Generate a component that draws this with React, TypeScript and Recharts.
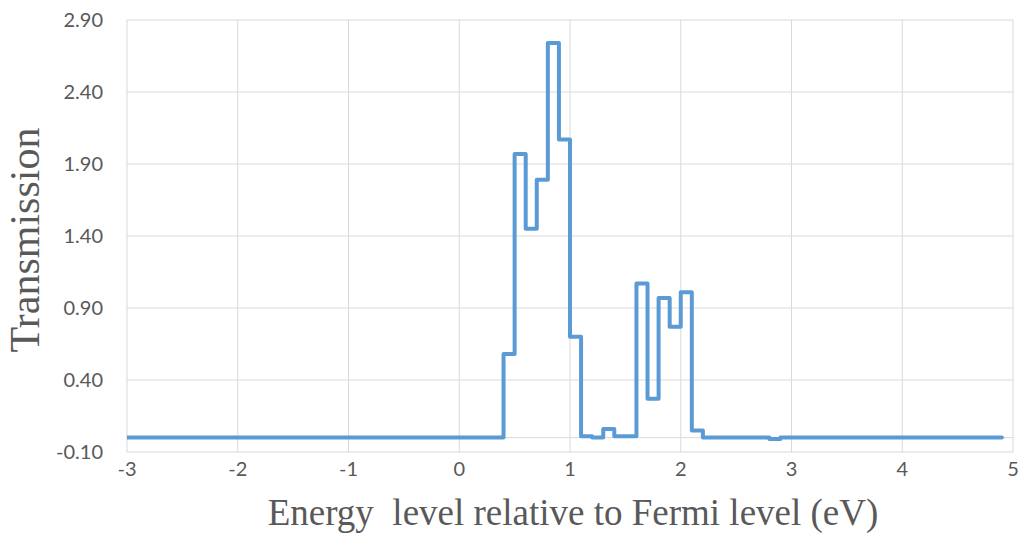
import React from 'react';
import { LineChart, Line, XAxis, YAxis, CartesianGrid, ReferenceLine } from 'recharts';

const energy = [-3, 0.4, 0.5, 0.6, 0.7, 0.8, 0.9, 1.0, 1.1, 1.2, 1.3, 1.4, 1.6, 1.7, 1.8, 1.9, 2.0, 2.1, 2.2, 2.8, 2.9, 4.9];
const transmission = [0.0, 0.58, 1.97, 1.45, 1.79, 2.74, 2.07, 0.70, 0.01, 0.0, 0.06, 0.01, 1.07, 0.27, 0.97, 0.77, 1.01, 0.05, 0.0, -0.01, 0.0, 0.0];
const xTicks = [-3, -2, -1, 0, 1, 2, 3, 4, 5];
const yTicks = [-0.1, 0.4, 0.9, 1.4, 1.9, 2.4, 2.9];
const xTitle = 'Energy\u00a0 level relative to Fermi level (eV)';
const yTitle = 'Transmission';

const data = energy.map((x, i) => ({ x, t: transmission[i] }));

const tickStyle = { fontFamily: 'Lato, "Open Sans", sans-serif', fontSize: 20, fill: '#595959' };
const gridColor = '#d9d9d9';

const XTitle = (props: any) => {
  const vb = props.viewBox;
  return (
    <text x={vb.x + vb.width / 2 + 3} y={vb.y + 73} textAnchor="middle"
      style={{ fontFamily: '"Liberation Serif", "Times New Roman", serif', fontSize: 37, fill: '#595959' }}>
      {xTitle}
    </text>
  );
};

const YTitle = (props: any) => {
  const vb = props.viewBox;
  const cx = vb.x + 39;
  const cy = vb.y + vb.height / 2 + 4;
  return (
    <text x={cx} y={cy} textAnchor="middle" transform={`rotate(-90 ${cx} ${cy})`}
      style={{ fontFamily: '"Liberation Serif", "Times New Roman", serif', fontSize: 42, fill: '#595959' }}>
      {yTitle}
    </text>
  );
};

export default function App() {
  return (
    <div style={{ position: 'fixed', left: 0, top: 0, background: '#fff' }}>
      <LineChart width={1019} height={533} data={data} margin={{ top: 20, right: 6, left: 0, bottom: 0 }}>
        <CartesianGrid stroke={gridColor} strokeWidth={1} />
        <XAxis dataKey="x" type="number" domain={[-3, 5]} ticks={xTicks} axisLine={false} tickLine={false}
          tickSize={6} tickMargin={4} height={81} tick={tickStyle} interval={0}
          label={<XTitle />} allowDataOverflow />
        <YAxis type="number" domain={[-0.1, 2.9]} ticks={yTicks} axisLine={false} tickLine={false}
          tickSize={6} tickMargin={18} width={127} tick={tickStyle} interval={0}
          tickFormatter={(v: number) => v.toFixed(2)} label={<YTitle />} allowDataOverflow />
        <ReferenceLine y={0} stroke={gridColor} strokeWidth={1} />
        <Line type="stepAfter" dataKey="t" stroke="#5b9bd5" strokeWidth={4} dot={false}
          strokeLinejoin="round" strokeLinecap="round" isAnimationActive={false} />
      </LineChart>
    </div>
  );
}
